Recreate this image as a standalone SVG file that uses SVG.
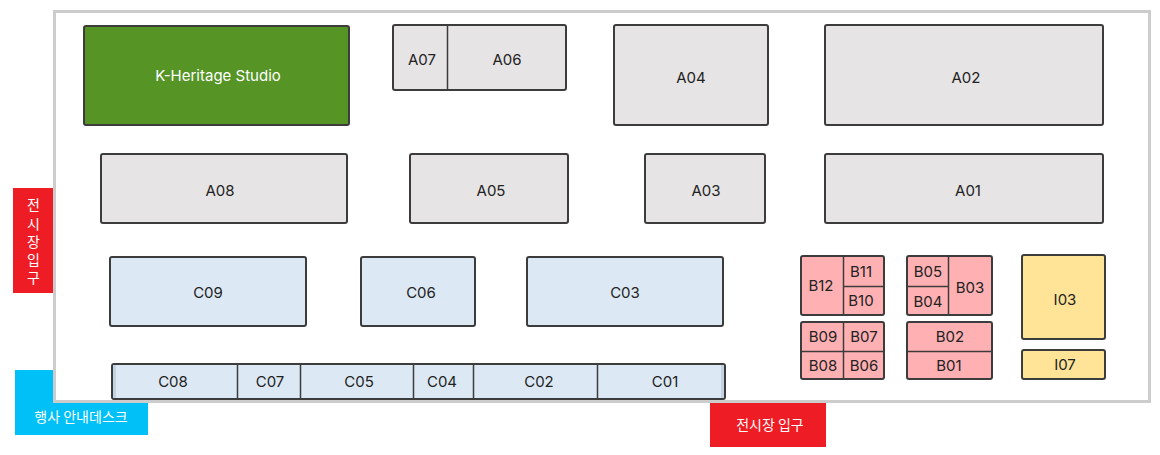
<svg xmlns="http://www.w3.org/2000/svg" width="1160" height="455" viewBox="0 0 1160 455">
<style>
text{font-family:"Inter","Noto Sans CJK KR",sans-serif;font-size:15px;fill:#222;text-anchor:middle;dominant-baseline:central}
.w{fill:#fff}
.k{font-family:"Noto Sans CJK KR","Inter",sans-serif;font-size:14px;fill:#fff}
.b{stroke:#3c3c3c;stroke-width:2}
.l{stroke:#3c3c3c;stroke-width:1.5;fill:none}
.a{fill:#e6e4e5}.c{fill:#dce9f5}.p{fill:#ffb0b3}.y{fill:#ffe498}.g{fill:#559425}
</style>
<rect id="desk-bg" x="15" y="370" width="133" height="65" fill="#00c0f8"/>
<rect id="entry-bg" x="710" y="400" width="116" height="47" fill="#ee1c25"/>
<rect id="side-bg" x="13" y="188" width="42" height="105" fill="#ee1c25"/>
<rect id="frame" x="54.500" y="11.500" width="1095" height="390" fill="#fff" stroke="#ccc" stroke-width="3"/>
<g id="side-entry"><text class="k" x="33.500" y="204">전</text><text class="k" x="33.500" y="222.500">시</text><text class="k" x="33.500" y="241">장</text><text class="k" x="33.500" y="259">입</text><text class="k" x="33.500" y="277">구</text></g>
<g id="desk"><text class="k" x="81" y="416">행사 안내데스크</text></g>
<g id="entry"><text class="k" x="770" y="424">전시장 입구</text></g>
<g id="kh"><rect class="b g" x="84" y="26" width="265" height="99" rx="2"/><text class="w" x="218" y="75">K-Heritage Studio</text></g>
<g id="a07-a06"><rect class="b a" x="393" y="25" width="173" height="65" rx="2"/><path class="l" d="M447.500 25V90"/><text x="422" y="59">A07</text><text x="507" y="59">A06</text></g>
<g id="a04"><rect class="b a" x="614" y="25" width="154" height="100" rx="2"/><text x="691" y="77">A04</text></g>
<g id="a02"><rect class="b a" x="825" y="25" width="278" height="100" rx="2"/><text x="966" y="77">A02</text></g>
<g id="a08"><rect class="b a" x="101" y="154" width="246" height="69" rx="2"/><text x="220" y="190">A08</text></g>
<g id="a05"><rect class="b a" x="410" y="154" width="158" height="69" rx="2"/><text x="491" y="190">A05</text></g>
<g id="a03"><rect class="b a" x="645" y="154" width="120" height="69" rx="2"/><text x="706" y="190">A03</text></g>
<g id="a01"><rect class="b a" x="825" y="154" width="278" height="69" rx="2"/><text x="968" y="190">A01</text></g>
<g id="c09"><rect class="b c" x="110" y="257" width="196" height="69" rx="2"/><text x="208" y="292">C09</text></g>
<g id="c06"><rect class="b c" x="361" y="257" width="114" height="69" rx="2"/><text x="421" y="292">C06</text></g>
<g id="c03"><rect class="b c" x="527" y="257" width="196" height="69" rx="2"/><text x="625" y="292">C03</text></g>
<g id="c-row"><rect class="b c" x="112" y="364" width="613" height="35" rx="2"/><rect x="113" y="365" width="3" height="33" fill="#c3d2e0"/><rect x="721" y="365" width="3" height="33" fill="#c3d2e0"/><path class="l" d="M237.500 364V399M300.500 364V399M413.500 364V399M473.500 364V399M597.500 364V399"/><text x="173" y="381">C08</text><text x="270" y="381">C07</text><text x="359" y="381">C05</text><text x="442" y="381">C04</text><text x="539" y="381">C02</text><text x="665" y="381">C01</text></g>
<g id="b12-10"><rect class="b p" x="801" y="256" width="83" height="59" rx="2"/><path class="l" d="M843.500 256V315M843.500 286.500H884"/><text x="821" y="285">B12</text><text x="861" y="271">B11</text><text x="861" y="300">B10</text></g>
<g id="b05-03"><rect class="b p" x="907" y="256" width="85" height="59" rx="2"/><path class="l" d="M948.500 256V315M907 286.500H948.500"/><text x="928" y="271">B05</text><text x="928" y="301">B04</text><text x="970" y="287">B03</text></g>
<g id="b09-06"><rect class="b p" x="801" y="322" width="83" height="57" rx="2"/><path class="l" d="M843.500 322V379M801 351.500H884"/><text x="823" y="336">B09</text><text x="864" y="336">B07</text><text x="823" y="365">B08</text><text x="864" y="365">B06</text></g>
<g id="b02-01"><rect class="b p" x="907" y="322" width="85" height="57" rx="2"/><path class="l" d="M907 351.500H992"/><text x="950" y="336">B02</text><text x="949" y="365">B01</text></g>
<g id="i03"><rect class="b y" x="1022" y="255" width="83" height="84" rx="2"/><text x="1065" y="299">I03</text></g>
<g id="i07"><rect class="b y" x="1022" y="350" width="83" height="29" rx="2"/><text x="1065" y="364">I07</text></g>
</svg>
